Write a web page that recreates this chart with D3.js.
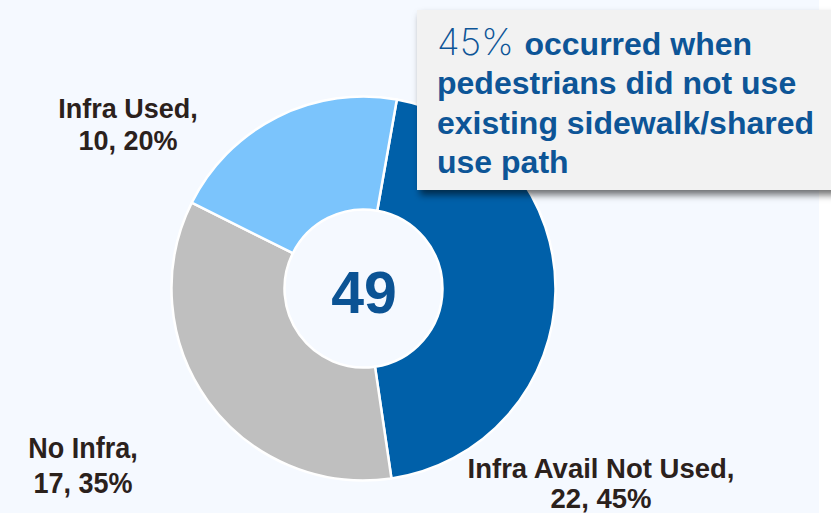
<!DOCTYPE html>
<html>
  <script src="https://d3js.org/d3.v7.js"></script>
  <style>
    body { margin: 0; background: #ffffff; }
    svg { display: block; }
  </style>
  <body>
    <svg id="myChart" width="831" height="513"></svg>
    <script>
      // Data
      const categories = ["Infra Avail Not Used", "No Infra", "Infra Used"];
      const counts = [22, 17, 10];
      const colors = ["#0060a9", "#bfbfbf", "#7bc4fc"];
      const calloutLines = ["occurred when", "pedestrians did not use", "existing sidewalk/shared", "use path"];

      // Label anchors (placed like the original slide)
      const labelPos = [
        { x: 601, y: 478, gap: 30, size: 27.5, sy: 1.0 },
        { x: 83, y: 458, gap: 31.5, size: 27, sy: 1.12 },
        { x: 128, y: 118, gap: 32, size: 27, sy: 1.0 }
      ];

      const width = 831;
      const height = 513;
      const cx = 363.5;
      const cy = 288.5;
      const outerR = 192;
      const innerR = 79;
      const total = d3.sum(counts);

      const svg = d3.select("#myChart");

      // shadow for the callout box
      const defs = svg.append("defs");
      const filter = defs.append("filter")
        .attr("id", "shadow")
        .attr("x", "-10%").attr("y", "-10%")
        .attr("width", "130%").attr("height", "140%");
      filter.append("feDropShadow")
        .attr("dx", 3).attr("dy", 5)
        .attr("stdDeviation", 3.5)
        .attr("flood-color", "#000")
        .attr("flood-opacity", 0.55);

      // background
      svg.append("rect")
        .attr("width", 819).attr("height", height)
        .attr("fill", "#f5f9ff");

      // Donut
      const data = categories.map(function (c, i) {
        return { name: c, value: counts[i], color: colors[i], pos: labelPos[i] };
      });

      const start = 10 * Math.PI / 180;
      const pie = d3.pie()
        .sort(null)
        .value(function (d) { return d.value; })
        .startAngle(start)
        .endAngle(start + 2 * Math.PI);

      const arc = d3.arc().innerRadius(innerR).outerRadius(outerR);

      const g = svg.append("g")
        .attr("transform", "translate(" + cx + "," + cy + ")");

      g.selectAll("path")
        .data(pie(data))
        .enter()
        .append("path")
        .attr("d", arc)
        .attr("fill", function (d) { return d.data.color; })
        .attr("stroke", "#ffffff")
        .attr("stroke-width", 2.5)
        .attr("stroke-linejoin", "round");

      // total in the middle
      g.append("text")
        .attr("x", 0.5)
        .attr("y", 24)
        .attr("text-anchor", "middle")
        .attr("font-family", "Liberation Sans, Arial, sans-serif")
        .attr("font-weight", "bold")
        .attr("font-size", 59)
        .attr("fill", "#0b5394")
        .text(total);

      // slice labels
      const labels = svg.selectAll("text.lbl")
        .data(data)
        .enter()
        .append("text")
        .attr("class", "lbl")
        .attr("transform", function (d) {
          return "translate(" + d.pos.x + "," + d.pos.y + ") scale(1," + d.pos.sy + ")";
        })
        .attr("text-anchor", "middle")
        .attr("font-family", "Liberation Sans, Arial, sans-serif")
        .attr("font-weight", "bold")
        .attr("font-size", function (d) { return d.pos.size; })
        .attr("fill", "#2b211c");

      labels.append("tspan")
        .attr("x", 0)
        .attr("y", 0)
        .text(function (d) { return d.name + ","; });

      labels.append("tspan")
        .attr("x", 0)
        .attr("y", function (d) { return d.pos.gap; })
        .text(function (d) {
          return d.value + ", " + Math.round(d.value / total * 100) + "%";
        });

      // Callout box
      svg.append("rect")
        .attr("x", 417).attr("y", 10)
        .attr("width", 420).attr("height", 180)
        .attr("fill", "#f2f2f2")
        .attr("filter", "url(#shadow)");

      const share = Math.round(counts[0] / total * 100);
      const callout = svg.append("text")
        .attr("font-family", "Liberation Sans, Arial, sans-serif")
        .attr("font-weight", "bold")
        .attr("font-size", 32)
        .attr("fill", "#0d5597");

      const first = callout.append("tspan")
        .attr("x", 437).attr("y", 55);
      first.append("tspan")
        .attr("font-family", "Inter, Roboto, Lato, sans-serif")
        .attr("font-weight", 200)
        .attr("font-size", 37)
        .text(share + "% ");
      first.append("tspan").text(calloutLines[0]);

      calloutLines.slice(1).forEach(function (line, i) {
        callout.append("tspan")
          .attr("x", 437)
          .attr("y", 55 + (i + 1) * 39.3)
          .text(line);
      });
    </script>
  </body>
</html>
